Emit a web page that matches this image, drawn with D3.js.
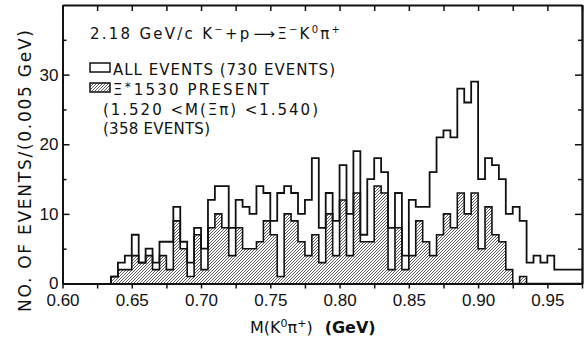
<!DOCTYPE html>
<html>
<head>
<meta charset="utf-8">
<script src="https://cdn.jsdelivr.net/npm/d3@7/dist/d3.min.js"></script>
<style>
  body { margin: 0; background: #fff; }
  svg { display: block; }
  text { font-family: "Liberation Sans", Arial, sans-serif; fill: #111; }
  .note { font-family: "DejaVu Sans", "Liberation Sans", sans-serif; }
</style>
</head>
<body>
<svg id="chart" width="584" height="341"></svg>
<script>
// histogram bins, 0.005 GeV wide, first bin starts at 0.635
const binStart = 0.635;
const binWidth = 0.005;

// all events (730)
const allEvents = [
  1, 3, 4, 7, 3, 5, 3, 6, 6, 11, 6, 3, 8, 5,
  12, 14, 14, 8, 12, 11, 10, 14, 13, 9, 13, 14, 13, 10,
  12, 18, 8, 13, 9, 17, 10, 19, 7, 15, 18, 16,
  8, 13, 4, 12, 11, 11, 16, 21, 22, 21, 28, 26, 29, 15,
  18, 17, 15, 10, 11, 9, 3, 4, 3, 4, 2, 2, 2, 2
];

// Xi*(1530) present (358)
const xiStar = [
  1, 2, 2, 4, 3, 4, 2, 4, 2, 9, 5, 1, 7, 2,
  8, 10, 8, 4, 8, 5, 5, 6, 9, 7, 1, 10, 9, 6,
  4, 7, 3, 10, 4, 12, 4, 13, 6, 6, 14, 13,
  2, 8, 2, 4, 9, 6, 4, 7, 10, 8, 13, 10, 13, 5,
  11, 7, 6, 2, 0, 1, 0, 0, 0, 0, 0, 0, 0, 0
];

const xTickLabels = [0.60, 0.65, 0.70, 0.75, 0.80, 0.85, 0.90, 0.95];
const xMinorTicks = [0.625, 0.675, 0.725, 0.775, 0.825, 0.875, 0.925, 0.975];
const yTickLabels = [0, 10, 20, 30];
const yMinorTicks = [5, 15, 25, 35];

const svg = d3.select("#chart");

const x = d3.scaleLinear().domain([0.60, 0.975]).range([62.5, 582]);
const y = d3.scaleLinear().domain([0, 40]).range([283.5, 5]);

// hatch pattern
const defs = svg.append("defs");
const pat = defs.append("pattern")
  .attr("id", "hatch")
  .attr("patternUnits", "userSpaceOnUse")
  .attr("width", 3)
  .attr("height", 3);
pat.append("rect").attr("width", 3).attr("height", 3).attr("fill", "#fff");
pat.append("path")
  .attr("d", "M-1,1 l2,-2 M0,3 l3,-3 M2,4 l2,-2")
  .attr("stroke", "#333")
  .attr("stroke-width", 0.8);

const edges = allEvents.map((d, i) => binStart + i * binWidth);
const binEnd = binStart + allEvents.length * binWidth;

// points for step curves
const allPts = [[binStart, 0]].concat(allEvents.map((v, i) => [edges[i], v]));
allPts.push([binEnd, allEvents[allEvents.length - 1]]);

const xiPts = xiStar.map((v, i) => [edges[i], v]);
xiPts.push([binEnd, 0]);

const area = d3.area()
  .curve(d3.curveStepAfter)
  .x(d => x(d[0]))
  .y0(y(0))
  .y1(d => y(d[1]));

const line = d3.line()
  .curve(d3.curveStepAfter)
  .x(d => x(d[0]))
  .y(d => y(d[1]));

// hatched histogram
svg.append("path")
  .datum(xiPts)
  .attr("d", area)
  .attr("fill", "url(#hatch)");

svg.append("path")
  .datum([[binStart, 0]].concat(xiPts))
  .attr("d", line)
  .attr("fill", "none")
  .attr("stroke", "#111")
  .attr("stroke-width", 1.6);

// all events outline
svg.append("path")
  .datum(allPts)
  .attr("d", line)
  .attr("fill", "none")
  .attr("stroke", "#111")
  .attr("stroke-width", 1.8);

// axes
const axisStyle = g => {
  g.select(".domain").attr("stroke", "#111").attr("stroke-width", 1.8);
  g.selectAll(".tick line").attr("stroke", "#111").attr("stroke-width", 1.5);
  g.selectAll(".tick text")
    .attr("font-family", "Liberation Sans, Arial, sans-serif")
    .attr("font-size", 17)
    .attr("fill", "#111");
};

svg.append("g")
  .attr("transform", `translate(0,${y(0)})`)
  .call(d3.axisBottom(x).tickValues(xTickLabels.concat(xMinorTicks))
    .tickSize(5).tickSizeOuter(0).tickPadding(5)
    .tickFormat(d => xTickLabels.includes(d) ? d3.format(".2f")(d) : ""))
  .call(axisStyle);

svg.append("g")
  .attr("transform", `translate(0,${y(40)})`)
  .call(d3.axisTop(x).tickValues(xTickLabels.concat(xMinorTicks))
    .tickSize(-6).tickSizeOuter(0).tickFormat(""))
  .call(axisStyle);

svg.append("g")
  .attr("transform", `translate(${x(0.60)},0)`)
  .call(d3.axisLeft(y).tickValues(yTickLabels)
    .tickSize(-7).tickSizeOuter(0).tickPadding(4))
  .call(axisStyle);

svg.append("g")
  .attr("transform", `translate(${x(0.60)},0)`)
  .call(d3.axisLeft(y).tickValues(yMinorTicks)
    .tickSize(-4).tickSizeOuter(0).tickFormat(""))
  .call(axisStyle);

svg.append("g")
  .attr("transform", `translate(${x(0.975)},0)`)
  .call(d3.axisRight(y).tickValues(yTickLabels)
    .tickSize(-7).tickSizeOuter(0).tickFormat(""))
  .call(axisStyle);

svg.append("g")
  .attr("transform", `translate(${x(0.975)},0)`)
  .call(d3.axisRight(y).tickValues(yMinorTicks)
    .tickSize(-4).tickSizeOuter(0).tickFormat(""))
  .call(axisStyle);

// axis titles
svg.append("text")
  .attr("class", "note")
  .attr("transform", "translate(31,171) rotate(-90)")
  .attr("text-anchor", "middle")
  .attr("font-size", 17)
  .attr("textLength", 282)
  .attr("lengthAdjust", "spacing")
  .text("NO. OF EVENTS/(0.005 GeV)");

const xt = svg.append("text")
  .attr("class", "note")
  .attr("x", 250)
  .attr("y", 333)
  .attr("font-size", 16);
xt.append("tspan").text("M(K");
xt.append("tspan").attr("dy", -6).attr("font-size", 11).text("0");
xt.append("tspan").attr("dy", 6).text("π");
xt.append("tspan").attr("dy", -6).attr("font-size", 11).text("+");
xt.append("tspan").attr("dy", 6).text(")");
xt.append("tspan").attr("dx", 12).attr("font-weight", "bold").text("(GeV)");

// reaction label
const t1 = svg.append("text")
  .attr("class", "note")
  .attr("x", 90)
  .attr("y", 39)
  .attr("font-size", 15)
  .attr("textLength", 250)
  .attr("lengthAdjust", "spacing");
t1.append("tspan").text("2.18 GeV/c  K");
t1.append("tspan").attr("dy", -6).attr("font-size", 10).text("−");
t1.append("tspan").attr("dy", 6).text("+p");
t1.append("tspan").attr("dx", 2).text("⟶");
t1.append("tspan").text("Ξ");
t1.append("tspan").attr("dy", -6).attr("font-size", 10).text("−");
t1.append("tspan").attr("dy", 6).text("K");
t1.append("tspan").attr("dy", -6).attr("font-size", 10).text("0");
t1.append("tspan").attr("dy", 6).text("π");
t1.append("tspan").attr("dy", -6).attr("font-size", 10).text("+");

// legend
svg.append("rect")
  .attr("x", 90).attr("y", 63).attr("width", 20).attr("height", 9)
  .attr("fill", "#fff").attr("stroke", "#111").attr("stroke-width", 1.5);
svg.append("text")
  .attr("class", "note")
  .attr("x", 113).attr("y", 75).attr("font-size", 15)
  .attr("textLength", 222).attr("lengthAdjust", "spacing")
  .text("ALL EVENTS (730 EVENTS)");

svg.append("rect")
  .attr("x", 90).attr("y", 83).attr("width", 20).attr("height", 9)
  .attr("fill", "url(#hatch)").attr("stroke", "#111").attr("stroke-width", 1.5);
const t2 = svg.append("text")
  .attr("class", "note")
  .attr("x", 113).attr("y", 95).attr("font-size", 15)
  .attr("textLength", 156).attr("lengthAdjust", "spacing");
t2.append("tspan").text("Ξ");
t2.append("tspan").attr("dy", -4).attr("font-size", 12).text("*");
t2.append("tspan").attr("dy", 4).attr("dx", 1).text("1530 PRESENT");

svg.append("text")
  .attr("class", "note")
  .attr("x", 103).attr("y", 115).attr("font-size", 15)
  .attr("textLength", 215).attr("lengthAdjust", "spacing")
  .text("(1.520 <M(Ξπ) <1.540)");
svg.append("text")
  .attr("class", "note")
  .attr("x", 103).attr("y", 134).attr("font-size", 15)
  .attr("textLength", 107).attr("lengthAdjust", "spacing")
  .text("(358 EVENTS)");
</script>
</body>
</html>
